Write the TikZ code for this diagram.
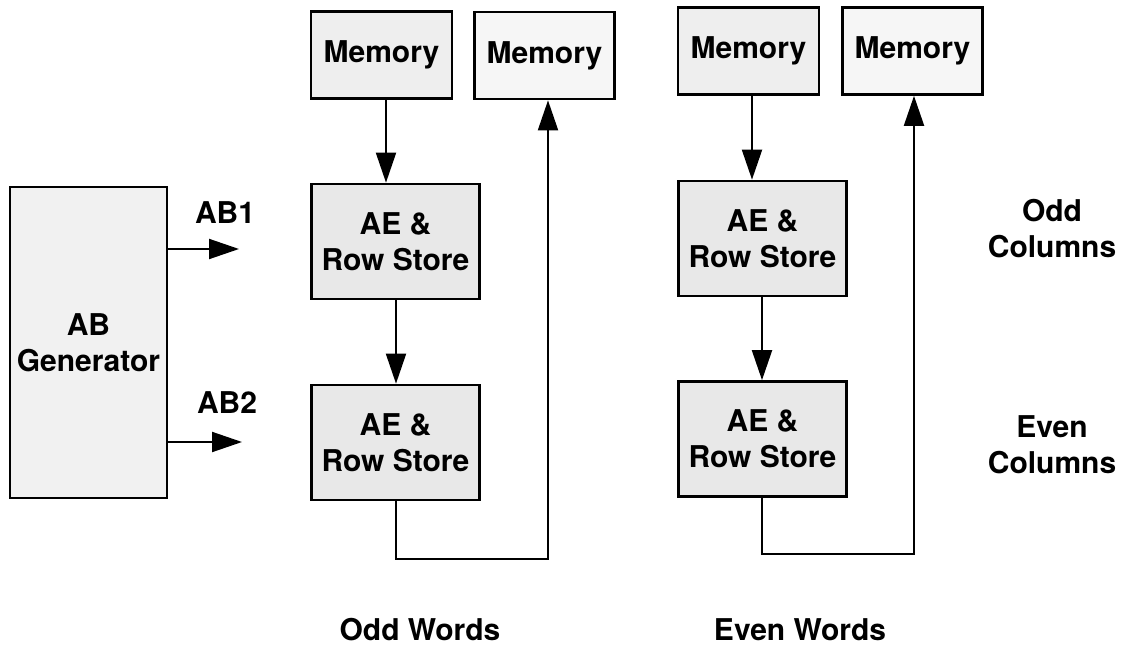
\documentclass[tikz,border=0pt]{standalone}
\usepackage{fontspec}
\setmainfont{TeX Gyre Heros}
\usetikzlibrary{arrows.meta}
\definecolor{fillAE}{HTML}{E8E8E8}
\definecolor{fillMemA}{HTML}{EEEEEE}
\definecolor{fillMemB}{HTML}{F6F6F6}
\definecolor{fillGen}{HTML}{F1F1F1}
\begin{document}
\begin{tikzpicture}[x=1pt,y=-1pt,
  every node/.style={font=\fontsize{30}{36}\selectfont\bfseries, align=center},
  blk/.style={draw=black, line width=2.7pt, inner sep=0pt, rectangle},
  aebox/.style={blk, fill=fillAE, minimum width=168pt, minimum height=115pt},
  memsrc/.style={blk, fill=fillMemA, minimum width=141pt, minimum height=87pt},
  memdst/.style={blk, fill=fillMemB, minimum width=140pt, minimum height=87pt},
  genbox/.style={blk, fill=fillGen, minimum width=157pt, minimum height=311pt},
  lbl/.style={inner sep=0pt},
  arr/.style={line width=2pt, -{Triangle[length=30pt,width=20pt]}},
  wire/.style={line width=2pt}
]
\useasboundingbox (0,0) rectangle (1127,647);

% boxes
\node[genbox] (gen) at (88.5,342.5) {AB\\Generator};
\node[memsrc] (m1) at (381.5,55) {Memory};
\node[memdst] (m2) at (544.5,55.5) {Memory};
\node[memsrc] (m3) at (748.5,51) {Memory};
\node[memdst] (m4) at (912.5,51) {Memory};
\node[aebox] (ae1) at (395.5,241.5) {AE \&\\Row Store};
\node[aebox] (ae2) at (395.5,442.5) {AE \&\\Row Store};
\node[aebox] (ae3) at (762.5,238.5) {AE \&\\Row Store};
\node[aebox] (ae4) at (762.5,439) {AE \&\\Row Store};

% labels
\node[lbl] (ab1) at (225,213) {AB1};
\node[lbl] (ab2) at (227,403) {AB2};
\node[lbl] (oddw) at (420,630) {Odd Words};
\node[lbl] (evenw) at (800,630) {Even Words};
\node[lbl] (oddc) at (1052,229) {Odd\\Columns};
\node[lbl] (evenc) at (1052,445) {Even\\Columns};

% AB outputs
\coordinate (ab1end) at (239,249);
\coordinate (ab2end) at (242,442);
\draw[arr] (gen.east |- ab1end) -- (ab1end);
\draw[arr] (gen.east |- ab2end) -- (ab2end);

% odd words column
\draw[arr] (386,0 |- m1.south) -- (386,0 |- ae1.north);
\draw[arr] (396,0 |- ae1.south) -- (396,0 |- ae2.north);
\coordinate (l1a) at (396,559);
\coordinate (l1b) at (548,559);
\draw[arr] (396,0 |- ae2.south) -- (l1a) -- (l1b) -- (548,0 |- m2.south);

% even words column
\draw[arr] (752,0 |- m3.south) -- (752,0 |- ae3.north);
\draw[arr] (762,0 |- ae3.south) -- (762,0 |- ae4.north);
\coordinate (l2a) at (762,554);
\coordinate (l2b) at (914,554);
\draw[arr] (762,0 |- ae4.south) -- (l2a) -- (l2b) -- (914,0 |- m4.south);
\end{tikzpicture}
\end{document}
